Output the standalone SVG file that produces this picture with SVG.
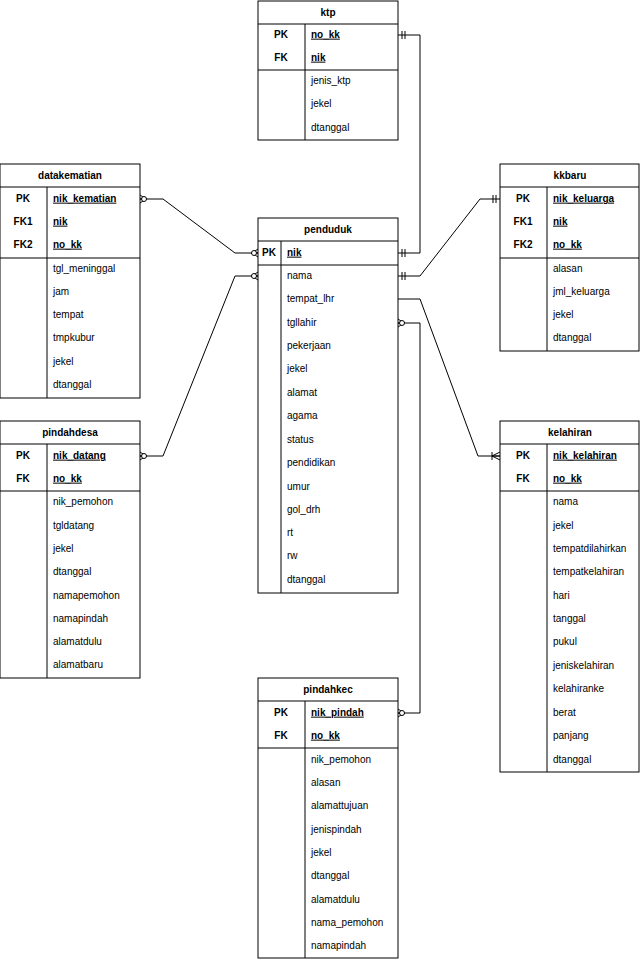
<svg xmlns="http://www.w3.org/2000/svg" width="640" height="960" viewBox="0 0 640 960">
<style>
rect.b{fill:#fff;stroke:#000;stroke-width:1}
line.s{stroke:#000;stroke-width:1}
text{font-family:"Liberation Sans",Arial,sans-serif;font-size:10px;fill:#000;dominant-baseline:middle}
.h{text-anchor:middle;font-weight:bold;font-size:10px}
.k{text-anchor:middle;font-weight:bold}
.u{text-decoration:underline;font-weight:bold}
.c{fill:none;stroke:#000;stroke-width:1}
</style>
<defs>
<marker id="zm" markerUnits="userSpaceOnUse" markerWidth="14" markerHeight="12" refX="12" refY="6" orient="auto-start-reverse" viewBox="0 0 14 12">
<path d="M5,6 L12,6 M6,6 L12,2 M6,6 L12,10" fill="none" stroke="#000"/>
<circle cx="8" cy="6" r="2.5" fill="#fff" stroke="#000"/>
</marker>
<marker id="one" markerUnits="userSpaceOnUse" markerWidth="14" markerHeight="12" refX="12" refY="6" orient="auto-start-reverse" viewBox="0 0 14 12">
<path d="M5,2 L5,10 M8,2 L8,10" fill="none" stroke="#000"/>
</marker>
<marker id="om" markerUnits="userSpaceOnUse" markerWidth="14" markerHeight="12" refX="12" refY="6" orient="auto-start-reverse" viewBox="0 0 14 12">
<path d="M4,2 L4,10 M4,6 L12,2 M4,6 L12,10 M4,6 L12,6" fill="none" stroke="#000"/>
</marker>
</defs>

<g id="connectors">
<polyline class="c" points="398,35 420,35 420,253 398,253" marker-start="url(#one)" marker-end="url(#one)"/>
<polyline class="c" points="500,199 480,199 420,276 398,276" marker-start="url(#one)" marker-end="url(#one)"/>
<polyline class="c" points="140,199 163,199 235,253 258,253" marker-start="url(#zm)" marker-end="url(#zm)"/>
<polyline class="c" points="140,456 163,456 235,276 258,276" marker-start="url(#zm)" marker-end="url(#zm)"/>
<polyline class="c" points="398,299 420,299 478,456 500,456" marker-end="url(#om)"/>
<polyline class="c" points="398,323 420,323 420,713 398,713" marker-start="url(#zm)" marker-end="url(#zm)"/>
</g>

<g id="ktp">
<rect class="b" x="258" y="1" width="140" height="139"/>
<line class="s" x1="258" y1="24" x2="398" y2="24"/><line class="s" x1="258" y1="70" x2="398" y2="70"/>
<line class="s" x1="305" y1="24" x2="305" y2="140"/>
<text class="h" x="328" y="13">ktp</text>
<text class="k" x="281" y="35">PK</text><text class="u" x="311" y="35">no_kk</text>
<text class="k" x="281" y="58">FK</text><text class="u" x="311" y="58">nik</text>
<text x="311" y="81">jenis_ktp</text><text x="311" y="104">jekel</text><text x="311" y="128">dtanggal</text>
</g>

<g id="datakematian">
<rect class="b" x="0" y="164" width="140" height="234"/>
<line class="s" x1="0" y1="187" x2="140" y2="187"/><line class="s" x1="0" y1="258" x2="140" y2="258"/>
<line class="s" x1="47" y1="187" x2="47" y2="398"/>
<text class="h" x="70" y="176">datakematian</text>
<text class="k" x="23" y="199">PK</text><text class="u" x="53" y="199">nik_kematian</text>
<text class="k" x="23" y="222">FK1</text><text class="u" x="53" y="222">nik</text>
<text class="k" x="23" y="245">FK2</text><text class="u" x="53" y="245">no_kk</text>
<text x="53" y="269">tgl_meninggal</text><text x="53" y="292">jam</text><text x="53" y="315">tempat</text><text x="53" y="338">tmpkubur</text><text x="53" y="362">jekel</text><text x="53" y="385">dtanggal</text>
</g>

<g id="kkbaru">
<rect class="b" x="500" y="164" width="139" height="187"/>
<line class="s" x1="500" y1="187" x2="639" y2="187"/><line class="s" x1="500" y1="258" x2="639" y2="258"/>
<line class="s" x1="547" y1="187" x2="547" y2="351"/>
<text class="h" x="570" y="176">kkbaru</text>
<text class="k" x="523" y="199">PK</text><text class="u" x="553" y="199">nik_keluarga</text>
<text class="k" x="523" y="222">FK1</text><text class="u" x="553" y="222">nik</text>
<text class="k" x="523" y="245">FK2</text><text class="u" x="553" y="245">no_kk</text>
<text x="553" y="269">alasan</text><text x="553" y="292">jml_keluarga</text><text x="553" y="315">jekel</text><text x="553" y="338">dtanggal</text>
</g>

<g id="penduduk">
<rect class="b" x="258" y="218" width="140" height="375"/>
<line class="s" x1="258" y1="241" x2="398" y2="241"/><line class="s" x1="258" y1="265" x2="398" y2="265"/>
<line class="s" x1="281" y1="241" x2="281" y2="593"/>
<text class="h" x="328" y="230">penduduk</text>
<text class="k" x="269" y="253">PK</text><text class="u" x="287" y="253">nik</text>
<text x="287" y="276">nama</text><text x="287" y="299">tempat_lhr</text><text x="287" y="323">tgllahir</text><text x="287" y="346">pekerjaan</text><text x="287" y="369">jekel</text><text x="287" y="393">alamat</text><text x="287" y="416">agama</text><text x="287" y="440">status</text><text x="287" y="463">pendidikan</text><text x="287" y="487">umur</text><text x="287" y="510">gol_drh</text><text x="287" y="533">rt</text><text x="287" y="556">rw</text><text x="287" y="580">dtanggal</text>
</g>

<g id="pindahdesa">
<rect class="b" x="0" y="421" width="140" height="257"/>
<line class="s" x1="0" y1="444" x2="140" y2="444"/><line class="s" x1="0" y1="491" x2="140" y2="491"/>
<line class="s" x1="47" y1="444" x2="47" y2="678"/>
<text class="h" x="70" y="433">pindahdesa</text>
<text class="k" x="23" y="456">PK</text><text class="u" x="53" y="456">nik_datang</text>
<text class="k" x="23" y="479">FK</text><text class="u" x="53" y="479">no_kk</text>
<text x="53" y="502">nik_pemohon</text><text x="53" y="526">tgldatang</text><text x="53" y="549">jekel</text><text x="53" y="572">dtanggal</text><text x="53" y="596">namapemohon</text><text x="53" y="619">namapindah</text><text x="53" y="642">alamatdulu</text><text x="53" y="665">alamatbaru</text>
</g>

<g id="kelahiran">
<rect class="b" x="500" y="421" width="139" height="351"/>
<line class="s" x1="500" y1="444" x2="639" y2="444"/><line class="s" x1="500" y1="491" x2="639" y2="491"/>
<line class="s" x1="547" y1="444" x2="547" y2="772"/>
<text class="h" x="570" y="433">kelahiran</text>
<text class="k" x="523" y="456">PK</text><text class="u" x="553" y="456">nik_kelahiran</text>
<text class="k" x="523" y="479">FK</text><text class="u" x="553" y="479">no_kk</text>
<text x="553" y="502">nama</text><text x="553" y="526">jekel</text><text x="553" y="549">tempatdilahirkan</text><text x="553" y="572">tempatkelahiran</text><text x="553" y="596">hari</text><text x="553" y="619">tanggal</text><text x="553" y="642">pukul</text><text x="553" y="666">jeniskelahiran</text><text x="553" y="689">kelahiranke</text><text x="553" y="713">berat</text><text x="553" y="736">panjang</text><text x="553" y="760">dtanggal</text>
</g>

<g id="pindahkec">
<rect class="b" x="258" y="678" width="140" height="280"/>
<line class="s" x1="258" y1="701" x2="398" y2="701"/><line class="s" x1="258" y1="748" x2="398" y2="748"/>
<line class="s" x1="305" y1="701" x2="305" y2="958"/>
<text class="h" x="328" y="690">pindahkec</text>
<text class="k" x="281" y="713">PK</text><text class="u" x="311" y="713">nik_pindah</text>
<text class="k" x="281" y="736">FK</text><text class="u" x="311" y="736">no_kk</text>
<text x="311" y="760">nik_pemohon</text><text x="311" y="783">alasan</text><text x="311" y="806">alamattujuan</text><text x="311" y="830">jenispindah</text><text x="311" y="853">jekel</text><text x="311" y="876">dtanggal</text><text x="311" y="900">alamatdulu</text><text x="311" y="923">nama_pemohon</text><text x="311" y="946">namapindah</text>
</g>
</svg>
